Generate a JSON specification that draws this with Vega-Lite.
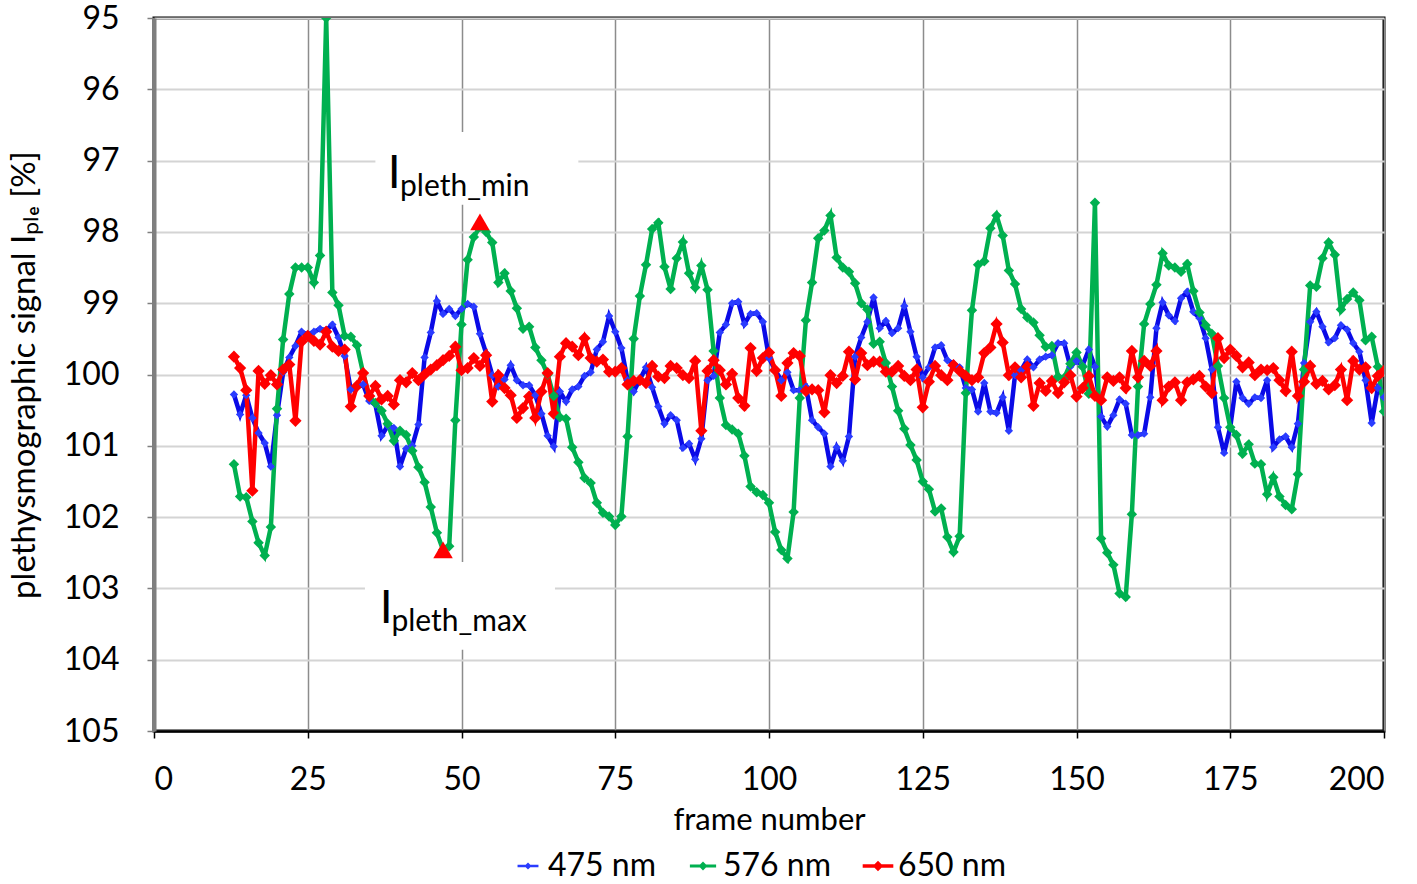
{
  "$schema": "https://vega.github.io/schema/vega-lite/v6.json",
  "width": 1230,
  "height": 713,
  "autosize": {"type": "none"},
  "padding": {"left": 154, "top": 18, "right": 33, "bottom": 153},
  "background": "white",
  "datasets": {
    "signal": [
      {"f":13,"475 nm":100.28,"576 nm":101.26,"650 nm":99.75},
      {"f":14,"475 nm":100.56,"576 nm":101.71,"650 nm":99.91},
      {"f":15,"475 nm":100.29,"576 nm":101.72,"650 nm":100.22},
      {"f":16,"475 nm":100.61,"576 nm":102.06,"650 nm":101.63},
      {"f":17,"475 nm":100.82,"576 nm":102.36,"650 nm":99.95},
      {"f":18,"475 nm":100.96,"576 nm":102.54,"650 nm":100.13},
      {"f":19,"475 nm":101.29,"576 nm":102.14,"650 nm":100.01},
      {"f":20,"475 nm":100.57,"576 nm":100.48,"650 nm":100.14},
      {"f":21,"475 nm":99.97,"576 nm":99.51,"650 nm":99.93},
      {"f":22,"475 nm":99.76,"576 nm":98.87,"650 nm":99.86},
      {"f":23,"475 nm":99.6,"576 nm":98.5,"650 nm":100.65},
      {"f":24,"475 nm":99.4,"576 nm":98.5,"650 nm":99.54},
      {"f":25,"475 nm":99.44,"576 nm":98.5,"650 nm":99.46},
      {"f":26,"475 nm":99.4,"576 nm":98.71,"650 nm":99.53},
      {"f":27,"475 nm":99.36,"576 nm":98.33,"650 nm":99.58},
      {"f":28,"475 nm":99.38,"576 nm":95.0,"650 nm":99.4},
      {"f":29,"475 nm":99.3,"576 nm":98.85,"650 nm":99.61},
      {"f":30,"475 nm":99.48,"576 nm":99.03,"650 nm":99.67},
      {"f":31,"475 nm":99.74,"576 nm":99.46,"650 nm":99.65},
      {"f":32,"475 nm":100.21,"576 nm":99.47,"650 nm":100.45},
      {"f":33,"475 nm":100.18,"576 nm":99.59,"650 nm":100.16},
      {"f":34,"475 nm":100.14,"576 nm":99.98,"650 nm":99.98},
      {"f":35,"475 nm":100.37,"576 nm":100.31,"650 nm":100.3},
      {"f":36,"475 nm":100.42,"576 nm":100.4,"650 nm":100.16},
      {"f":37,"475 nm":100.86,"576 nm":100.51,"650 nm":100.35},
      {"f":38,"475 nm":100.72,"576 nm":100.69,"650 nm":100.3},
      {"f":39,"475 nm":100.75,"576 nm":100.93,"650 nm":100.42},
      {"f":40,"475 nm":101.29,"576 nm":100.79,"650 nm":100.08},
      {"f":41,"475 nm":101.04,"576 nm":100.85,"650 nm":100.11},
      {"f":42,"475 nm":101.0,"576 nm":101.07,"650 nm":99.98},
      {"f":43,"475 nm":100.7,"576 nm":101.3,"650 nm":100.08},
      {"f":44,"475 nm":99.76,"576 nm":101.51,"650 nm":100.0},
      {"f":45,"475 nm":99.41,"576 nm":101.86,"650 nm":99.93},
      {"f":46,"475 nm":98.97,"576 nm":102.22,"650 nm":99.87},
      {"f":47,"475 nm":99.15,"576 nm":102.46,"650 nm":99.8},
      {"f":48,"475 nm":99.08,"576 nm":102.41,"650 nm":99.74},
      {"f":49,"475 nm":99.18,"576 nm":100.64,"650 nm":99.61},
      {"f":50,"475 nm":99.08,"576 nm":99.3,"650 nm":99.94},
      {"f":51,"475 nm":99.01,"576 nm":98.39,"650 nm":99.91},
      {"f":52,"475 nm":99.05,"576 nm":98.07,"650 nm":99.77},
      {"f":53,"475 nm":99.43,"576 nm":97.93,"650 nm":99.88},
      {"f":54,"475 nm":99.7,"576 nm":98.0,"650 nm":99.73},
      {"f":55,"475 nm":100.01,"576 nm":98.15,"650 nm":100.38},
      {"f":56,"475 nm":100.17,"576 nm":98.71,"650 nm":100.01},
      {"f":57,"475 nm":100.07,"576 nm":98.58,"650 nm":100.19},
      {"f":58,"475 nm":99.87,"576 nm":98.83,"650 nm":100.29},
      {"f":59,"475 nm":100.08,"576 nm":99.07,"650 nm":100.61},
      {"f":60,"475 nm":100.15,"576 nm":99.36,"650 nm":100.47},
      {"f":61,"475 nm":100.15,"576 nm":99.33,"650 nm":100.31},
      {"f":62,"475 nm":100.29,"576 nm":99.62,"650 nm":100.61},
      {"f":63,"475 nm":100.55,"576 nm":99.8,"650 nm":100.24},
      {"f":64,"475 nm":100.86,"576 nm":100.0,"650 nm":99.98},
      {"f":65,"475 nm":101.01,"576 nm":100.3,"650 nm":100.55},
      {"f":66,"475 nm":100.24,"576 nm":100.6,"650 nm":99.75},
      {"f":67,"475 nm":100.38,"576 nm":100.62,"650 nm":99.56},
      {"f":68,"475 nm":100.21,"576 nm":101.02,"650 nm":99.61},
      {"f":69,"475 nm":100.17,"576 nm":101.23,"650 nm":99.73},
      {"f":70,"475 nm":100.02,"576 nm":101.45,"650 nm":99.49},
      {"f":71,"475 nm":99.97,"576 nm":101.52,"650 nm":99.77},
      {"f":72,"475 nm":99.65,"576 nm":101.8,"650 nm":99.82},
      {"f":73,"475 nm":99.54,"576 nm":101.94,"650 nm":99.79},
      {"f":74,"475 nm":99.18,"576 nm":101.99,"650 nm":99.96},
      {"f":75,"475 nm":99.4,"576 nm":102.11,"650 nm":99.96},
      {"f":76,"475 nm":99.63,"576 nm":101.99,"650 nm":99.91},
      {"f":77,"475 nm":100.08,"576 nm":100.87,"650 nm":100.14},
      {"f":78,"475 nm":100.24,"576 nm":99.5,"650 nm":100.09},
      {"f":79,"475 nm":100.07,"576 nm":98.9,"650 nm":100.08},
      {"f":80,"475 nm":99.9,"576 nm":98.46,"650 nm":100.12},
      {"f":81,"475 nm":100.18,"576 nm":97.96,"650 nm":99.88},
      {"f":82,"475 nm":100.45,"576 nm":97.87,"650 nm":100.03},
      {"f":83,"475 nm":100.69,"576 nm":98.49,"650 nm":100.05},
      {"f":84,"475 nm":100.57,"576 nm":98.8,"650 nm":99.88},
      {"f":85,"475 nm":100.64,"576 nm":98.37,"650 nm":99.91},
      {"f":86,"475 nm":101.03,"576 nm":98.14,"650 nm":100.01},
      {"f":87,"475 nm":100.97,"576 nm":98.58,"650 nm":100.05},
      {"f":88,"475 nm":101.19,"576 nm":98.78,"650 nm":99.81},
      {"f":89,"475 nm":100.9,"576 nm":98.47,"650 nm":100.79},
      {"f":90,"475 nm":100.08,"576 nm":98.81,"650 nm":99.95},
      {"f":91,"475 nm":100.02,"576 nm":99.67,"650 nm":99.8},
      {"f":92,"475 nm":99.41,"576 nm":100.33,"650 nm":99.94},
      {"f":93,"475 nm":99.3,"576 nm":100.71,"650 nm":100.14},
      {"f":94,"475 nm":99.0,"576 nm":100.77,"650 nm":99.99},
      {"f":95,"475 nm":98.98,"576 nm":100.83,"650 nm":100.33},
      {"f":96,"475 nm":99.29,"576 nm":101.14,"650 nm":100.44},
      {"f":97,"475 nm":99.15,"576 nm":101.57,"650 nm":99.63},
      {"f":98,"475 nm":99.14,"576 nm":101.65,"650 nm":99.95},
      {"f":99,"475 nm":99.26,"576 nm":101.69,"650 nm":99.77},
      {"f":100,"475 nm":99.77,"576 nm":101.8,"650 nm":99.69},
      {"f":101,"475 nm":99.94,"576 nm":102.21,"650 nm":99.94},
      {"f":102,"475 nm":100.08,"576 nm":102.46,"650 nm":100.3},
      {"f":103,"475 nm":99.97,"576 nm":102.58,"650 nm":99.84},
      {"f":104,"475 nm":100.22,"576 nm":101.93,"650 nm":99.7},
      {"f":105,"475 nm":100.22,"576 nm":100.33,"650 nm":99.74},
      {"f":106,"475 nm":100.17,"576 nm":99.24,"650 nm":100.23},
      {"f":107,"475 nm":100.64,"576 nm":98.71,"650 nm":100.21},
      {"f":108,"475 nm":100.74,"576 nm":98.09,"650 nm":100.22},
      {"f":109,"475 nm":100.83,"576 nm":97.98,"650 nm":100.53},
      {"f":110,"475 nm":101.29,"576 nm":97.77,"650 nm":100.01},
      {"f":111,"475 nm":101.02,"576 nm":98.36,"650 nm":100.12},
      {"f":112,"475 nm":101.21,"576 nm":98.5,"650 nm":100.02},
      {"f":113,"475 nm":100.87,"576 nm":98.56,"650 nm":99.68},
      {"f":114,"475 nm":99.75,"576 nm":98.72,"650 nm":100.07},
      {"f":115,"475 nm":99.48,"576 nm":99.0,"650 nm":99.7},
      {"f":116,"475 nm":99.26,"576 nm":99.09,"650 nm":99.87},
      {"f":117,"475 nm":98.92,"576 nm":99.57,"650 nm":99.82},
      {"f":118,"475 nm":99.35,"576 nm":99.54,"650 nm":99.82},
      {"f":119,"475 nm":99.25,"576 nm":99.84,"650 nm":99.96},
      {"f":120,"475 nm":99.42,"576 nm":100.17,"650 nm":99.96},
      {"f":121,"475 nm":99.35,"576 nm":100.51,"650 nm":99.88},
      {"f":122,"475 nm":99.04,"576 nm":100.76,"650 nm":100.02},
      {"f":123,"475 nm":99.4,"576 nm":100.99,"650 nm":100.08},
      {"f":124,"475 nm":99.75,"576 nm":101.2,"650 nm":99.93},
      {"f":125,"475 nm":100.04,"576 nm":101.5,"650 nm":100.46},
      {"f":126,"475 nm":99.9,"576 nm":101.61,"650 nm":100.1},
      {"f":127,"475 nm":99.62,"576 nm":101.92,"650 nm":99.88},
      {"f":128,"475 nm":99.59,"576 nm":101.88,"650 nm":100.01},
      {"f":129,"475 nm":99.8,"576 nm":102.28,"650 nm":100.08},
      {"f":130,"475 nm":99.85,"576 nm":102.49,"650 nm":99.87},
      {"f":131,"475 nm":99.9,"576 nm":102.27,"650 nm":99.95},
      {"f":132,"475 nm":100.19,"576 nm":100.26,"650 nm":100.02},
      {"f":133,"475 nm":100.21,"576 nm":99.1,"650 nm":100.08},
      {"f":134,"475 nm":100.52,"576 nm":98.46,"650 nm":100.04},
      {"f":135,"475 nm":100.12,"576 nm":98.41,"650 nm":99.7},
      {"f":136,"475 nm":100.52,"576 nm":97.95,"650 nm":99.62},
      {"f":137,"475 nm":100.54,"576 nm":97.77,"650 nm":99.29},
      {"f":138,"475 nm":100.32,"576 nm":98.05,"650 nm":99.55},
      {"f":139,"475 nm":100.79,"576 nm":98.54,"650 nm":100.01},
      {"f":140,"475 nm":100.01,"576 nm":98.73,"650 nm":99.9},
      {"f":141,"475 nm":99.94,"576 nm":99.08,"650 nm":100.04},
      {"f":142,"475 nm":99.79,"576 nm":99.2,"650 nm":99.89},
      {"f":143,"475 nm":99.9,"576 nm":99.27,"650 nm":100.44},
      {"f":144,"475 nm":99.79,"576 nm":99.45,"650 nm":100.12},
      {"f":145,"475 nm":99.75,"576 nm":99.61,"650 nm":100.23},
      {"f":146,"475 nm":99.73,"576 nm":99.6,"650 nm":100.09},
      {"f":147,"475 nm":99.56,"576 nm":100.03,"650 nm":100.26},
      {"f":148,"475 nm":99.56,"576 nm":100.05,"650 nm":100.11},
      {"f":149,"475 nm":99.89,"576 nm":99.85,"650 nm":100.01},
      {"f":150,"475 nm":99.81,"576 nm":99.69,"650 nm":100.31},
      {"f":151,"475 nm":99.87,"576 nm":99.89,"650 nm":100.19},
      {"f":152,"475 nm":99.65,"576 nm":100.27,"650 nm":100.02},
      {"f":153,"475 nm":99.89,"576 nm":97.59,"650 nm":100.3},
      {"f":154,"475 nm":100.59,"576 nm":102.3,"650 nm":100.36},
      {"f":155,"475 nm":100.73,"576 nm":102.5,"650 nm":100.04},
      {"f":156,"475 nm":100.57,"576 nm":102.67,"650 nm":100.09},
      {"f":157,"475 nm":100.35,"576 nm":103.07,"650 nm":100.04},
      {"f":158,"475 nm":100.41,"576 nm":103.12,"650 nm":100.19},
      {"f":159,"475 nm":100.85,"576 nm":101.96,"650 nm":99.67},
      {"f":160,"475 nm":100.85,"576 nm":100.17,"650 nm":100.04},
      {"f":161,"475 nm":100.83,"576 nm":99.29,"650 nm":99.81},
      {"f":162,"475 nm":100.32,"576 nm":99.01,"650 nm":99.88},
      {"f":163,"475 nm":99.35,"576 nm":98.74,"650 nm":99.67},
      {"f":164,"475 nm":98.99,"576 nm":98.3,"650 nm":100.36},
      {"f":165,"475 nm":99.17,"576 nm":98.47,"650 nm":100.17},
      {"f":166,"475 nm":99.25,"576 nm":98.5,"650 nm":100.11},
      {"f":167,"475 nm":98.93,"576 nm":98.56,"650 nm":100.36},
      {"f":168,"475 nm":98.84,"576 nm":98.45,"650 nm":100.11},
      {"f":169,"475 nm":99.12,"576 nm":98.83,"650 nm":100.07},
      {"f":170,"475 nm":99.21,"576 nm":99.13,"650 nm":100.02},
      {"f":171,"475 nm":99.49,"576 nm":99.31,"650 nm":100.17},
      {"f":172,"475 nm":99.93,"576 nm":99.43,"650 nm":100.26},
      {"f":173,"475 nm":100.74,"576 nm":99.88,"650 nm":99.49},
      {"f":174,"475 nm":101.1,"576 nm":100.33,"650 nm":99.77},
      {"f":175,"475 nm":100.74,"576 nm":100.74,"650 nm":99.65},
      {"f":176,"475 nm":100.1,"576 nm":100.85,"650 nm":99.74},
      {"f":177,"475 nm":100.33,"576 nm":101.11,"650 nm":99.9},
      {"f":178,"475 nm":100.41,"576 nm":100.98,"650 nm":99.83},
      {"f":179,"475 nm":100.32,"576 nm":101.25,"650 nm":100.01},
      {"f":180,"475 nm":100.33,"576 nm":101.26,"650 nm":99.93},
      {"f":181,"475 nm":100.08,"576 nm":101.68,"650 nm":99.94},
      {"f":182,"475 nm":101.02,"576 nm":101.44,"650 nm":99.91},
      {"f":183,"475 nm":100.91,"576 nm":101.71,"650 nm":100.08},
      {"f":184,"475 nm":100.87,"576 nm":101.83,"650 nm":100.23},
      {"f":185,"475 nm":101.02,"576 nm":101.89,"650 nm":99.68},
      {"f":186,"475 nm":100.69,"576 nm":101.4,"650 nm":100.3},
      {"f":187,"475 nm":99.84,"576 nm":99.93,"650 nm":100.1},
      {"f":188,"475 nm":99.26,"576 nm":98.75,"650 nm":99.88},
      {"f":189,"475 nm":99.12,"576 nm":98.77,"650 nm":100.13},
      {"f":190,"475 nm":99.33,"576 nm":98.37,"650 nm":100.09},
      {"f":191,"475 nm":99.55,"576 nm":98.15,"650 nm":100.21},
      {"f":192,"475 nm":99.49,"576 nm":98.32,"650 nm":100.15},
      {"f":193,"475 nm":99.31,"576 nm":99.09,"650 nm":99.93},
      {"f":194,"475 nm":99.37,"576 nm":98.94,"650 nm":100.36},
      {"f":195,"475 nm":99.56,"576 nm":98.85,"650 nm":99.81},
      {"f":196,"475 nm":99.68,"576 nm":98.96,"650 nm":99.93},
      {"f":197,"475 nm":100.08,"576 nm":99.52,"650 nm":99.9},
      {"f":198,"475 nm":100.68,"576 nm":99.47,"650 nm":100.19},
      {"f":199,"475 nm":100.19,"576 nm":99.89,"650 nm":100.02},
      {"f":200,"475 nm":100.32,"576 nm":100.52,"650 nm":99.95}
    ]
  },
  "layer": [
    {
      "data": {"values": [
        {"x0": 36, "x1": 69, "y0": 96.6, "y1": 97.62},
        {"x0": 34.3, "x1": 65.2, "y0": 102.63, "y1": 103.86}
      ]},
      "mark": {"type": "rect", "fill": "white"},
      "encoding": {
        "x": {"field": "x0", "type": "quantitative", "scale": {"domain": [0, 200]}},
        "x2": {"field": "x1"},
        "y": {"field": "y0", "type": "quantitative", "scale": {"domain": [95, 105], "reverse": true}},
        "y2": {"field": "y1"}
      }
    },
    {
      "data": {"name": "signal"},
      "transform": [
        {"fold": ["475 nm", "576 nm", "650 nm"], "as": ["series", "value"]}
      ],
      "encoding": {
        "x": {
          "field": "f", "type": "quantitative",
          "scale": {"domain": [0, 200], "nice": false},
          "axis": {
            "title": "frame number", "values": [0, 25, 50, 75, 100, 125, 150, 175, 200],
            "grid": true, "gridColor": "#8c8c8c", "gridWidth": 1.5,
            "domainColor": "#000000", "domainWidth": 2.5,
            "tickColor": "#000000", "tickSize": 7, "tickWidth": 1.5,
            "labelPadding": 26, "titlePadding": 10
          }
        },
        "y": {
          "field": "value", "type": "quantitative",
          "scale": {"domain": [95, 105], "reverse": true, "nice": false},
          "axis": {
            "title": "plethysmographic signal  Iₚₗₑ [%]",
            "values": [95, 96, 97, 98, 99, 100, 101, 102, 103, 104, 105],
            "format": "d",
            "grid": true, "gridColor": "#d4d4d4", "gridWidth": 2,
            "domainColor": "#7f7f7f", "domainWidth": 4,
            "tickColor": "#7f7f7f", "tickSize": 7, "tickWidth": 1.5,
            "labelPadding": 28, "titlePadding": 22, "titleFontSize": 33
          }
        }
      },
      "layer": [
        {
          "mark": {"type": "line", "strokeWidth": 4.5, "clip": true},
          "encoding": {
            "color": {
              "field": "series", "type": "nominal",
              "scale": {"domain": ["475 nm", "576 nm", "650 nm"], "range": ["#0a0ae6", "#00b050", "#ff0000"]},
              "legend": {
                "title": null, "orient": "none", "direction": "horizontal",
                "legendX": 358, "legendY": 832,
                "symbolType": "M-2.5,-0.3L2.5,-0.3L2.5,0.3L-2.5,0.3ZM0,-0.85L0.85,0L0,0.85L-0.85,0Z",
                "symbolSize": 900, "symbolStrokeWidth": 0,
                "labelFontSize": 32, "labelOffset": 4, "columnPadding": 30,
                "encode": {"symbols": {"update": {
                  "fill": {"scale": "color", "field": "value"},
                  "fillOpacity": {"value": 1},
                  "opacity": {"value": 1},
                  "strokeWidth": {"value": 0},
                  "shape": {"value": "M-2.5,-0.3L2.5,-0.3L2.5,0.3L-2.5,0.3ZM0,-0.85L0.85,0L0,0.85L-0.85,0Z"}
                }}}
              }
            }
          }
        },
        {
          "mark": {"type": "point", "shape": "diamond", "filled": true, "opacity": 1, "clip": true, "strokeWidth": 0},
          "encoding": {
            "fill": {
              "field": "series", "type": "nominal",
              "scale": {"domain": ["475 nm", "576 nm", "650 nm"], "range": ["#2a3cff", "#00b050", "#ff0000"]},
              "legend": null
            },
            "size": {
              "field": "series", "type": "nominal",
              "scale": {"domain": ["475 nm", "576 nm", "650 nm"], "range": [70, 150, 170]},
              "legend": null
            }
          }
        }
      ]
    },
    {
      "data": {"values": [
        {"f": 47, "v": 102.46},
        {"f": 53, "v": 97.86}
      ]},
      "mark": {"type": "point", "shape": "triangle-up", "filled": true, "color": "#ff0000", "size": 380, "opacity": 1},
      "encoding": {
        "x": {"field": "f", "type": "quantitative"},
        "y": {"field": "v", "type": "quantitative"}
      }
    },
    {
      "data": {"values": [
        {"x": 38.0, "y": 97.38, "t": "I"},
        {"x": 36.7, "y": 103.49, "t": "I"}
      ]},
      "mark": {"type": "text", "align": "left", "baseline": "alphabetic", "fontSize": 46, "font": "Lato", "color": "black"},
      "encoding": {
        "x": {"field": "x", "type": "quantitative"},
        "y": {"field": "y", "type": "quantitative"},
        "text": {"field": "t"}
      }
    },
    {
      "data": {"values": [
        {"x": 40.0, "y": 97.49, "t": "pleth_min"},
        {"x": 38.6, "y": 103.6, "t": "pleth_max"}
      ]},
      "mark": {"type": "text", "align": "left", "baseline": "alphabetic", "fontSize": 30, "font": "Lato", "color": "black"},
      "encoding": {
        "x": {"field": "x", "type": "quantitative"},
        "y": {"field": "y", "type": "quantitative"},
        "text": {"field": "t"}
      }
    }
  ],
  "config": {
    "font": "Lato",
    "view": {"stroke": "#000000", "strokeWidth": 3},
    "axis": {
      "labelFontSize": 32, "titleFontSize": 31, "labelColor": "#000000", "titleColor": "#000000",
      "titleFontWeight": "normal", "labelFont": "Lato", "titleFont": "Lato"
    },
    "legend": {"labelColor": "#000000", "labelFont": "Lato"}
  }
}
